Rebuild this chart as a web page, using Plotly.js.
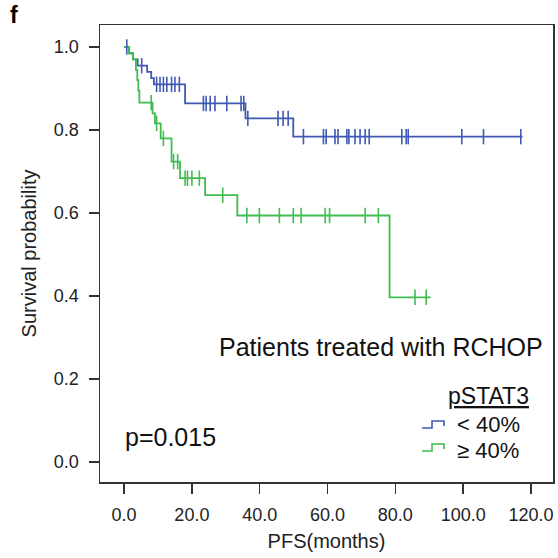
<!DOCTYPE html>
<html>
<head>
<meta charset="utf-8">
<script src="https://cdn.plot.ly/plotly-3.0.1.min.js"></script>
<style>html,body{margin:0;padding:0;background:#fff;}#chart{width:558px;height:558px;}</style>
</head>
<body>
<div id="chart"></div>
<script>
// Kaplan-Meier step data (time in months, survival probability)
const blueTimes = [0, 1.5, 2.6, 4.0, 6.8, 8.0, 8.8, 18.0, 35.8, 49.9, 117.5];
const blueSurv  = [1.0, 0.985, 0.97, 0.955, 0.94, 0.925, 0.91, 0.864, 0.828, 0.784, 0.784];
const blueCensor = [0.8, 5.2, 9.6, 10.6, 11.6, 12.6, 14.0, 15.0, 16.3, 23.4, 24.2, 25.4, 26.8, 30.3, 34.5, 35.3, 36.5, 45.4, 46.9, 48.4, 52.9, 58.8, 59.6, 62.2, 63.1, 65.7, 66.3, 68.1, 69.6, 71.1, 72.3, 81.9, 83.2, 83.8, 99.6, 106.0, 117.0];

const greenTimes = [0, 1.5, 2.6, 3.5, 3.9, 4.2, 4.5, 8.4, 9.1, 10.8, 14.0, 16.5, 23.9, 33.4, 78.3, 90.4];
const greenSurv  = [1.0, 0.985, 0.97, 0.945, 0.92, 0.895, 0.866, 0.84, 0.816, 0.78, 0.724, 0.684, 0.643, 0.594, 0.397, 0.397];
const greenCensor = [8.0, 9.6, 11.6, 14.6, 15.8, 18.0, 18.7, 20.0, 22.2, 29.1, 36.2, 39.9, 45.8, 49.9, 52.2, 59.3, 60.6, 71.1, 75.0, 85.8, 89.1];

const groupLabels = ["< 40%", "≥ 40%"];
const xTicks = [0, 20, 40, 60, 80, 100, 120];
const yTicks = [0, 0.2, 0.4, 0.6, 0.8, 1.0];

const BLUE = '#3f58b4';
const GREEN = '#3fbd50';
const FONT = 'Liberation Sans, Arial, sans-serif';

function survAt(times, surv, t) {
  let v = surv[0];
  for (let i = 0; i < times.length; i++) { if (times[i] <= t) v = surv[i]; }
  return v;
}

function stepTrace(times, surv, color, name) {
  return {x: times, y: surv, mode: 'lines', name: name, line: {shape: 'hv', color: color, width: 1.8}, showlegend: false, hoverinfo: 'skip'};
}
function censorTrace(times, surv, cens, color, name) {
  return {x: cens, y: cens.map(t => survAt(times, surv, t)), mode: 'markers', name: name,
    marker: {symbol: 'line-ns-open', size: 11, color: color, line: {color: color, width: 1.6}}, showlegend: false, hoverinfo: 'skip'};
}

const data = [
  stepTrace(blueTimes, blueSurv, BLUE, groupLabels[0]),
  stepTrace(greenTimes, greenSurv, GREEN, groupLabels[1]),
  censorTrace(blueTimes, blueSurv, blueCensor, BLUE, groupLabels[0]),
  censorTrace(greenTimes, greenSurv, greenCensor, GREEN, groupLabels[1])
];

// plot area in pixels: x 100..553, y 25..482
const L = 100, R = 553, T = 25, B = 482;
const px = x => (x - L) / (R - L);
const py = y => (B - y) / (B - T);
function glyph(y0, color) {
  const p = [[422, y0 + 7], [432, y0 + 7], [432, y0], [444, y0], [444, y0 + 5]];
  return {type: 'path', xref: 'paper', yref: 'paper',
    path: 'M ' + p.map(q => px(q[0]).toFixed(4) + ',' + py(q[1]).toFixed(4)).join(' L '),
    line: {color: color, width: 1.6}};
}

const layout = {
  width: 558, height: 558,
  margin: {l: L, r: 558 - R, t: T, b: 558 - B, pad: 0},
  paper_bgcolor: '#fff', plot_bgcolor: '#fff',
  font: {family: FONT, color: '#222'},
  showlegend: false,
  xaxis: {
    range: [-7.1, 126.5], tickvals: xTicks, tickformat: '.1f',
    ticks: 'outside', ticklen: 10, tickwidth: 1.5, tickcolor: '#333',
    showline: true, mirror: true, linecolor: '#333', linewidth: 1.5,
    showgrid: false, zeroline: false, automargin: false,
    tickfont: {size: 18, family: FONT, color: '#222'}, ticklabelstandoff: 6,
    title: {text: 'PFS(months)', font: {size: 20, family: FONT, color: '#222'}, standoff: 10}
  },
  yaxis: {
    range: [-0.048, 1.053], tickvals: yTicks, tickformat: '.1f',
    ticks: 'outside', ticklen: 10, tickwidth: 1.5, tickcolor: '#333',
    showline: true, mirror: true, linecolor: '#333', linewidth: 1.5,
    showgrid: false, zeroline: false, automargin: false,
    tickfont: {size: 18, family: FONT, color: '#222'}, ticklabelstandoff: 6,
    title: {text: 'Survival probability', font: {size: 20, family: FONT, color: '#222'}, standoff: 12}
  },
  shapes: [glyph(421, BLUE), glyph(444, GREEN)],
  annotations: [
    {text: '<b>f</b>', xref: 'paper', yref: 'paper', x: px(8), y: py(15), xanchor: 'left', yanchor: 'middle', showarrow: false, font: {size: 23, family: FONT, color: '#000'}},
    {text: 'Patients treated with RCHOP', xref: 'paper', yref: 'paper', x: px(545), y: py(347), xanchor: 'right', yanchor: 'middle', showarrow: false, font: {size: 25, family: FONT, color: '#111'}},
    {text: 'p=0.015', xref: 'paper', yref: 'paper', x: px(123), y: py(437), xanchor: 'left', yanchor: 'middle', showarrow: false, font: {size: 25, family: FONT, color: '#111'}},
    {text: '<u>pSTAT3</u>', xref: 'paper', yref: 'paper', x: px(531), y: py(396), xanchor: 'right', yanchor: 'middle', showarrow: false, font: {size: 23, family: FONT, color: '#111'}},
    {text: groupLabels[0], xref: 'paper', yref: 'paper', x: px(455), y: py(424), xanchor: 'left', yanchor: 'middle', showarrow: false, font: {size: 22, family: FONT, color: '#111'}},
    {text: groupLabels[1], xref: 'paper', yref: 'paper', x: px(455), y: py(450), xanchor: 'left', yanchor: 'middle', showarrow: false, font: {size: 22, family: FONT, color: '#111'}}
  ]
};

Plotly.newPlot('chart', data, layout, {displayModeBar: false, staticPlot: true});
</script>
</body>
</html>
